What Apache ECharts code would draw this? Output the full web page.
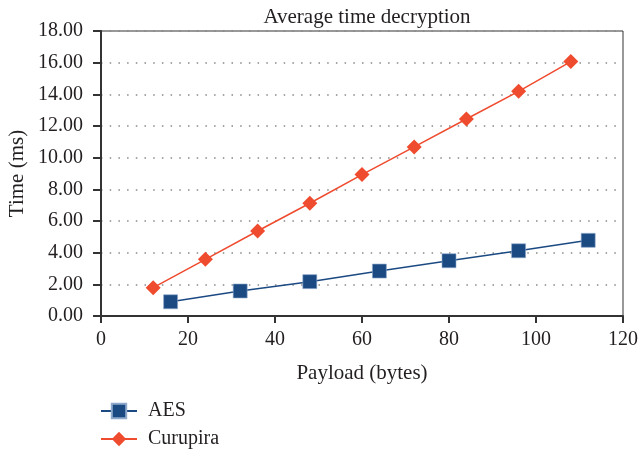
<!DOCTYPE html>
<html>
<head>
<meta charset="utf-8">
<script src="https://cdn.jsdelivr.net/npm/echarts@6/dist/echarts.min.js"></script>
<style>
  html, body { margin: 0; padding: 0; background: #fff; }
  #chart { width: 638px; height: 451px; }
</style>
</head>
<body>
<div id="chart"></div>
<script>
// Payload sizes (bytes) and mean decryption times (ms)
const aesPayload = [16, 32, 48, 64, 80, 96, 112];
const aesTime = [0.90, 1.58, 2.17, 2.84, 3.49, 4.12, 4.78];
const curupiraPayload = [12, 24, 36, 48, 60, 72, 84, 96, 108];
const curupiraTime = [1.79, 3.58, 5.37, 7.12, 8.93, 10.68, 12.44, 14.19, 16.07];

const serif = '"Liberation Serif", "DejaVu Serif", serif';
const textColor = '#231f20';

const legendBase = {
  orient: 'vertical',
  left: 100,
  padding: 0,
  itemWidth: 36,
  itemHeight: 18,
  textStyle: { fontFamily: serif, fontSize: 20, color: textColor, padding: [0, 0, 0, 6] }
};

const chart = echarts.init(document.getElementById('chart'));
chart.setOption({
  backgroundColor: '#fff',
  animation: false,
  title: {
    text: 'Average time decryption',
    left: 362,
    textAlign: 'center',
    top: 2,
    textStyle: { fontFamily: serif, fontSize: 21, fontWeight: 'normal', color: textColor }
  },
  grid: {
    left: 101, right: 15, top: 31, bottom: 135,
    outerBoundsMode: 'none',
    containLabel: false,
    show: true, borderColor: '#333', borderWidth: 1, backgroundColor: 'transparent'
  },
  legend: [
    Object.assign({}, legendBase, { top: 401, data: ['AES'] }),
    Object.assign({}, legendBase, { top: 429, data: ['Curupira'] })
  ],
  xAxis: {
    type: 'value',
    min: 0, max: 120, interval: 20,
    name: 'Payload (bytes)',
    nameLocation: 'middle',
    nameGap: 47,
    nameMoveOverlap: false,
    nameTextStyle: { fontFamily: serif, fontSize: 21, color: textColor },
    axisLine: { show: true, onZero: false, lineStyle: { color: '#333', width: 2 } },
    axisTick: { show: true, length: 7, lineStyle: { color: '#333', width: 2 } },
    axisLabel: { fontFamily: serif, fontSize: 20, color: textColor, margin: 14 },
    splitLine: { show: false }
  },
  yAxis: {
    type: 'value',
    min: 0, max: 18, interval: 2,
    name: 'Time (ms)',
    nameLocation: 'middle',
    nameGap: 73,
    nameMoveOverlap: false,
    nameTextStyle: { fontFamily: serif, fontSize: 21, color: textColor },
    axisLine: { show: true, lineStyle: { color: '#333', width: 2 } },
    axisTick: { show: true, length: 8, lineStyle: { color: '#333', width: 2 } },
    axisLabel: {
      fontFamily: serif, fontSize: 20, color: textColor, margin: 18,
      formatter: v => v.toFixed(2)
    },
    splitLine: {
      show: true,
      lineStyle: { color: '#888', width: 1.5, type: [1.5, 7.2] }
    }
  },
  series: [
    {
      name: 'AES',
      type: 'line',
      data: aesPayload.map((x, i) => [x, aesTime[i]]),
      symbol: 'rect',
      symbolSize: 14,
      itemStyle: { color: '#1b4a83', borderColor: '#8fa9cc', borderWidth: 0.6 },
      lineStyle: { color: '#1b4a83', width: 1.5 },
      z: 3
    },
    {
      name: 'Curupira',
      type: 'line',
      data: curupiraPayload.map((x, i) => [x, curupiraTime[i]]),
      symbol: 'diamond',
      symbolSize: 15,
      itemStyle: { color: '#ef4b2e' },
      lineStyle: { color: '#ef4b2e', width: 1.5 },
      z: 4
    }
  ]
});
</script>
</body>
</html>
